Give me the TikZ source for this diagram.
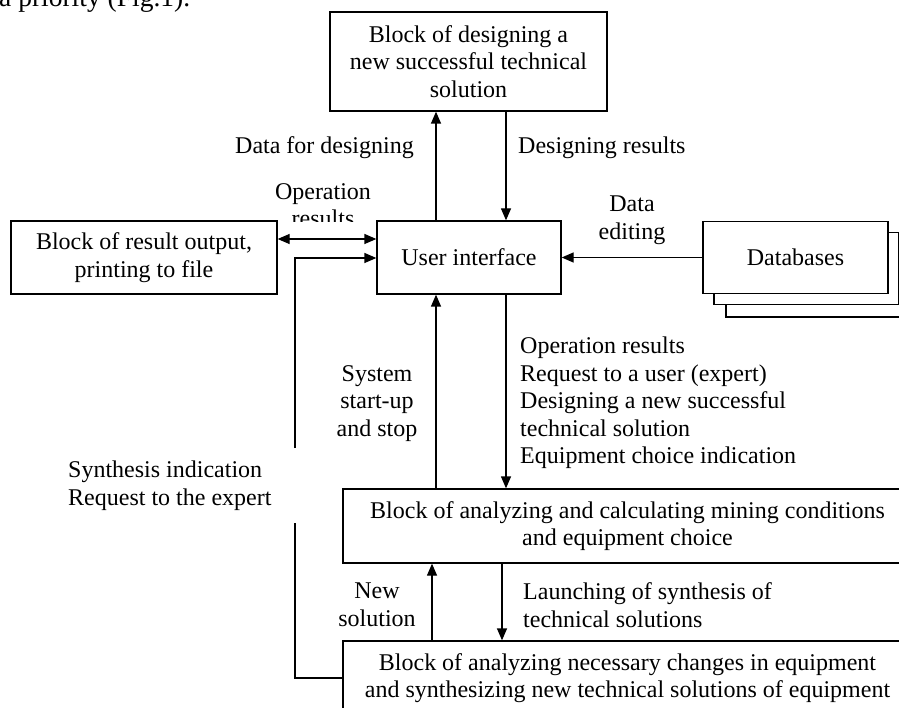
\documentclass[tikz,border=0pt]{standalone}
\usepackage{fontspec}
\setmainfont{Liberation Serif}
\usetikzlibrary{arrows.meta}
\begin{document}
\begin{tikzpicture}[x=1pt,y=-1pt,
  box/.style={draw, line width=1.3pt, fill=white, align=center, inner sep=0pt},
  backbox/.style={draw, line width=1.1pt, fill=white},
  arr/.style={line width=1.3pt, -{Triangle[length=12pt,width=10pt]}},
  darr/.style={line width=1.3pt, {Triangle[length=12pt,width=10pt]}-{Triangle[length=12pt,width=10pt]}},
  ln/.style={line width=1.3pt},
  lbl/.style={inner sep=0pt, align=left},
  clbl/.style={inner sep=0pt, align=center},
  font=\fontsize{24}{27.5}\selectfont]
\clip (0,0) rectangle (899,708);

% running text line above the figure
\node[inner sep=0pt, anchor=base west, font=\fontsize{27.5}{30}\selectfont] (prose) at (-1,7) {a priority (Fig.1).};

% blocks
\node[box, minimum width=277pt, minimum height=99pt] (design) at (468.5,61.5)
  {Block of designing a\\new successful technical\\solution};
\node[box, minimum width=266pt, minimum height=73pt] (output) at (144,257.5)
  {Block of result output,\\printing to file};
\node[box, minimum width=184pt, minimum height=73pt] (ui) at (469,257.5) {User interface};

% stacked database sheets
\node[backbox, minimum width=185pt, minimum height=72pt] (db3) at (818.5,281) {};
\node[backbox, minimum width=185pt, minimum height=72pt] (db2) at (806.5,268.5) {};
\node[box, minimum width=185pt, minimum height=72pt] (db) at (795.5,257.5) {Databases};

\node[box, minimum width=569pt, minimum height=74pt] (analysis) at (627.5,526)
  {Block of analyzing and calculating mining conditions\\and equipment choice};
\node[box, minimum width=569pt, minimum height=74pt] (synth) at (627.5,678)
  {Block of analyzing necessary changes in equipment\\and synthesizing new technical solutions of equipment};

% helper coordinates for connector positions
\coordinate (xa) at (436,0);
\coordinate (xb) at (506,0);
\coordinate (xc) at (432,0);
\coordinate (xd) at (502,0);
\coordinate (y239) at (0,239);
\coordinate (y258) at (0,258);
\coordinate (gapHi) at (295,448);
\coordinate (gapLo) at (295,523);

% connectors
\draw[arr] (xa |- ui.north) -- (xa |- design.south);
\draw[arr] (xb |- design.south) -- (xb |- ui.north);
\draw[darr] (output.east |- y239) -- (ui.west |- y239);
\draw[arr] (db.west) -- (ui.east);
\draw[arr] (xa |- analysis.north) -- (xa |- ui.south);
\draw[arr] (xb |- ui.south) -- (xb |- analysis.north);
\draw[arr] (xc |- synth.north) -- (xc |- analysis.south);
\draw[arr] (xd |- analysis.south) -- (xd |- synth.north);
\draw[ln] (synth.west) -| (gapLo);
\draw[arr] (gapHi) |- (ui.west |- y258);

% labels
\node[lbl, anchor=east] (l1) at (414,148) {Data for designing};
\node[lbl, anchor=west] (l2) at (518,148) {Designing results};
\begin{scope}
  \clip (260,170) rectangle (390,222);
  \node[clbl] (l3) at (323,205) {Operation\\results};
\end{scope}
\node[clbl] (l4) at (632,220) {Data\\editing};
\node[clbl] (l5) at (377,403.5) {System\\start-up\\and stop};
\node[lbl, anchor=west] (l6) at (520,403)
  {Operation results\\Request to a user (expert)\\Designing a new successful\\technical solution\\Equipment choice indication};
\node[lbl, anchor=west] (l7) at (68,485.5) {Synthesis indication\\Request to the expert};
\node[clbl] (l8) at (377,605) {New\\solution};
\node[lbl, anchor=west] (l9) at (523,605) {Launching of synthesis of\\technical solutions};
\end{tikzpicture}
\end{document}
